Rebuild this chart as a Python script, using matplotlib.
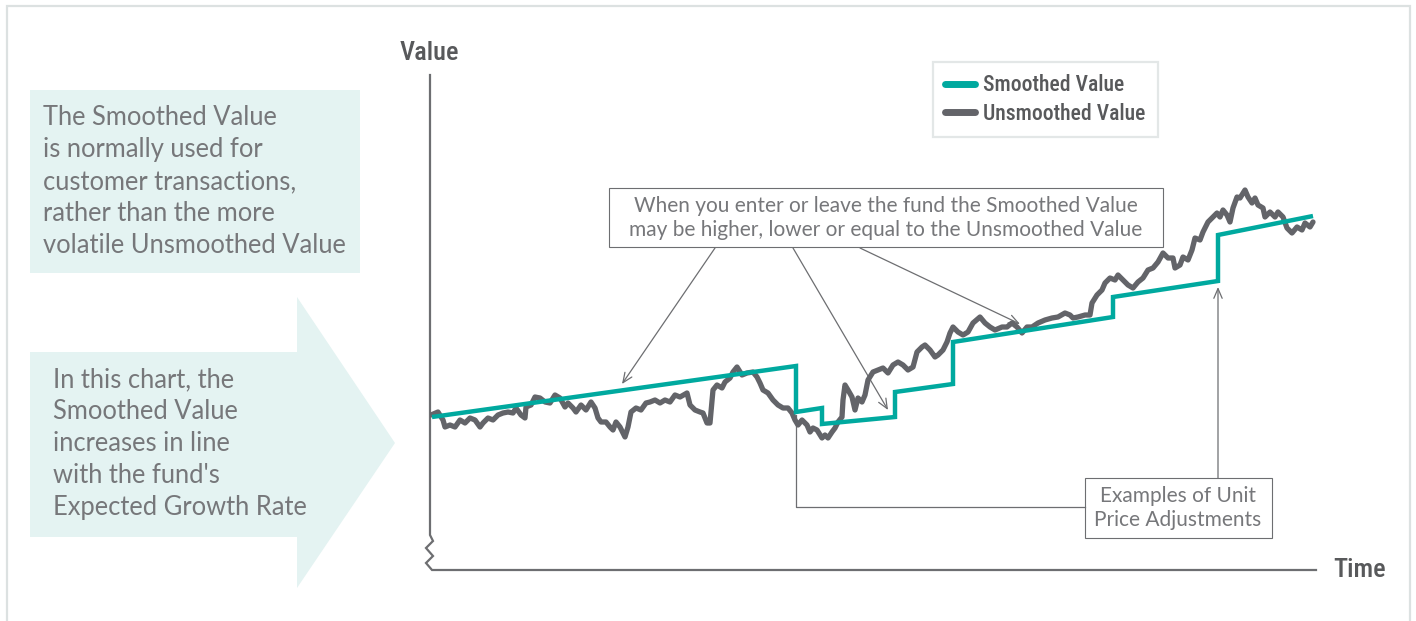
import matplotlib
matplotlib.use('Agg')
import matplotlib.pyplot as plt
from matplotlib.patches import Rectangle, Polygon
from matplotlib.lines import Line2D

W, H, DPI = 1416, 621, 100

# ---------------- data (time units, value units) ----------------
smooth_t = [2, 366, 366, 392, 392, 465, 465, 523, 523, 683, 683, 788, 788, 883]
smooth_v = [153, 204, 158, 162, 146, 153, 178, 186, 228, 253, 273, 289, 335, 354]

unsmooth_t = [1, 8, 13, 15, 20, 25, 30, 35, 40, 45, 50, 53, 58, 63, 68, 73, 78, 83, 86, 91,
              95, 96, 101, 105, 110, 115, 120, 125, 130, 135, 138, 143, 146, 151, 156, 161, 165, 168, 171, 176,
              180, 183, 186, 190, 195, 198, 201, 206, 211, 216, 220,
              225, 230, 235, 240, 245, 250, 257, 260, 265, 270, 273, 277, 280, 283, 287, 292, 295, 300, 303, 307,
              312, 317, 323, 327, 330, 333, 338, 343, 348, 353, 358, 362, 365, 368, 372, 377, 380, 383, 387, 392,
              395, 398, 402, 405, 408, 412, 413, 415, 418, 422, 425, 428, 432, 435, 438,
              443, 448, 453, 458, 463, 468, 473, 478, 483, 487, 492, 495, 500, 505, 508, 513, 517, 520, 523, 528,
              533, 538, 543, 550, 555, 560, 565, 572, 577, 582, 587, 592, 597, 602, 608, 615, 622, 628, 635, 640,
              643, 648, 655,
              660, 662, 667, 672, 675, 680, 685, 688, 693, 698, 703, 708, 713, 718, 723, 728, 733, 738, 743, 745,
              750, 753, 758, 762, 765, 770, 773, 778, 783, 787, 790, 793, 797, 800, 803, 807, 810, 815, 818, 822,
              825, 828, 833, 835, 840, 845, 848, 853, 857, 862, 867, 872, 875, 880, 883]
unsmooth_v = [155, 158, 150, 143, 145, 143, 150, 147, 152, 150, 143, 147, 152, 150, 155, 157, 158, 157, 162, 155,
              152, 163, 165, 173, 172, 168, 167, 175, 172, 163, 167, 162, 158, 165, 160, 168, 162, 152, 148, 148,
              143, 140, 148, 143, 133, 143, 158, 162, 160, 167, 168,
              170, 167, 170, 168, 175, 173, 177, 165, 160, 158, 157, 147, 147, 180, 185, 182, 188, 192, 198, 203,
              195, 197, 198, 193, 187, 180, 177, 170, 165, 162, 162, 157, 150, 145, 150, 145, 138, 142, 140, 132,
              135, 132, 138, 142, 148, 153, 170, 185, 180, 173, 160, 172, 168, 175, 190,
              198, 200, 202, 197, 205, 208, 205, 200, 203, 218, 223, 225, 220, 213, 215, 220, 228, 237, 243, 238,
              235, 238, 247, 253, 247, 243, 240, 243, 243, 247, 243, 237, 243, 243, 247, 250, 252, 253, 257, 255,
              252, 253, 255,
              255, 267, 275, 280, 287, 292, 290, 295, 290, 285, 282, 288, 292, 300, 302, 308, 317, 312, 312, 302,
              305, 313, 310, 320, 332, 330, 338, 348, 353, 357, 353, 360, 355, 348, 362, 373, 372, 380, 373, 367,
              372, 365, 362, 353, 358, 353, 358, 353, 342, 337, 343, 340, 347, 343, 348]

series_labels = ["Smoothed Value", "Unsmoothed Value"]
axis_labels = ["Value", "Time"]
note_top = ["When you enter or leave the fund the Smoothed Value",
            "may be higher, lower or equal to the Unsmoothed Value"]
note_bottom = ["Examples of Unit", "Price Adjustments"]
side_note_1 = ["The Smoothed Value", "is normally used for", "customer transactions,",
               "rather than the more", "volatile Unsmoothed Value"]
side_note_2 = ["In this chart, the", "Smoothed Value", "increases in line",
               "with the fund's", "Expected Growth Rate"]
# arrow targets on the data (t, v)
arrow_targets = [(192, 186), (458, 160), (590, 246)]
adjust_targets = [(366, 155), (788, 283)]

# ---------------- styling ----------------
TEAL = '#00A99F'
DARK = '#636469'
AXC = '#6D6E71'
TXT = '#76777A'
FILL = '#E4F3F2'
BORDER = '#DCE1E1'
BODY_FONT = ['Lato', 'DejaVu Sans']
HEAD_FONT = ['Roboto Condensed', 'Roboto', 'DejaVu Sans']

fig = plt.figure(figsize=(W / DPI, H / DPI), dpi=DPI)
fig.patch.set_facecolor('white')

# overlay in pixel coordinates (for decoration)
ov = fig.add_axes([0, 0, 1, 1], zorder=0)
ov.set_xlim(0, W)
ov.set_ylim(H, 0)
ov.axis('off')

# data axes
ax = fig.add_axes([430 / W, (H - 570) / H, 890 / W, 495 / H], zorder=2)
ax.set_xlim(0, 890)
ax.set_ylim(0, 495)
ax.axis('off')
ax.patch.set_alpha(0)

# outer border
ov.plot([7, 7, 1410, 1410], [H, 6, 6, H], color=BORDER, lw=1.6, solid_joinstyle='miter')

# left boxes
ov.add_patch(Rectangle((30, 90), 330, 183, facecolor=FILL, edgecolor='none'))
ov.add_patch(Polygon([(30, 352), (297, 352), (297, 297), (395, 443), (297, 588), (297, 537), (30, 537)],
                     closed=True, facecolor=FILL, edgecolor='none'))
for i, s in enumerate(side_note_1):
    ov.text(43, 125 + 32 * i, s, fontsize=18.4, color=TXT, family=BODY_FONT, fontweight='normal', va='baseline')
for i, s in enumerate(side_note_2):
    ov.text(53, 387 + 32 * i, s, fontsize=18.4, color=TXT, family=BODY_FONT, fontweight='normal', va='baseline')

# axes lines with break symbol
ov.plot([430, 430, 433, 426, 433, 426, 432, 1316], [75, 535, 541, 548, 556, 563, 570, 570],
        color=AXC, lw=1.6, solid_joinstyle='miter')
ov.text(400, 60, axis_labels[0], fontsize=19, color='#58595B', family=HEAD_FONT, fontweight='medium',
        va='baseline')
ov.text(1333, 577, axis_labels[1], fontsize=19, color='#58595B', family=HEAD_FONT, fontweight='medium',
        va='baseline')

# top note box
ov.add_patch(Rectangle((609, 188), 554, 59, facecolor='white', edgecolor=AXC, lw=0.8))
for i, s in enumerate(note_top):
    ov.text(886, 212 + 24 * i, s, fontsize=15, color=TXT, family=BODY_FONT, fontweight='normal',
            ha='center', va='baseline')
# bottom note box
ov.add_patch(Rectangle((1085, 478), 187, 60, facecolor='white', edgecolor=AXC, lw=0.8))
for i, s in enumerate(note_bottom):
    ov.text(1178, 502 + 24 * i, s, fontsize=15, color=TXT, family=BODY_FONT, fontweight='normal',
            ha='center', va='baseline')

# arrows from top note to the lines
for (tx, tv), sx in zip(arrow_targets, [715, 793, 860]):
    ax.annotate('', xy=(tx, tv), xycoords='data', xytext=(sx, 248), textcoords=ov.transData,
                arrowprops=dict(arrowstyle='->,head_length=0.7,head_width=0.3', color=AXC, lw=0.9,
                                shrinkA=0, shrinkB=0), zorder=1, annotation_clip=False)

# connectors from bottom note
t0, v0 = adjust_targets[0]
p0 = ov.transData.inverted().transform(ax.transData.transform((t0, v0)))
ax.plot([1085, p0[0], p0[0]], [507, 507, p0[1]], color=AXC, lw=0.9, transform=ov.transData,
        clip_on=False, zorder=1)
ax.annotate('', xy=adjust_targets[1], xycoords='data', xytext=(1218, 478), textcoords=ov.transData,
            arrowprops=dict(arrowstyle='->,head_length=0.7,head_width=0.3', color=AXC, lw=0.9,
                            shrinkA=0, shrinkB=0), zorder=1, annotation_clip=False)

# series
l2, = ax.plot(unsmooth_t, unsmooth_v, color=DARK, lw=3.8, solid_joinstyle='round',
              solid_capstyle='round', zorder=3, label=series_labels[1])
l1, = ax.plot(smooth_t, smooth_v, color=TEAL, lw=3.2, solid_joinstyle='miter',
              solid_capstyle='butt', zorder=4, label=series_labels[0])

h1 = Line2D([], [], color=TEAL, lw=5, solid_capstyle='round')
h2 = Line2D([], [], color=DARK, lw=5, solid_capstyle='round')
leg = ax.legend([h1, h2], series_labels, loc='upper left', bbox_to_anchor=(933, 62),
                bbox_transform=ov.transData, borderaxespad=0, frameon=True, fancybox=False,
                prop=dict(family=HEAD_FONT, size=15.6, weight='medium'),
                labelcolor='#58595B', handlelength=1.4, handletextpad=0.35, labelspacing=0.3,
                borderpad=0.56)
leg.get_frame().set_edgecolor(BORDER)
leg.get_frame().set_linewidth(1.6)
leg.set_zorder(10)

fig.savefig('out.png', dpi=DPI, facecolor='white')
